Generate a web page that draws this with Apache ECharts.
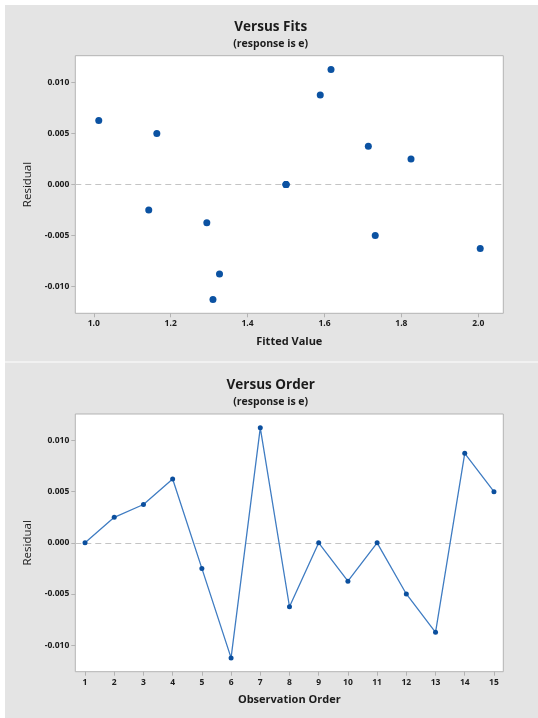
<!DOCTYPE html>
<html>
<head>
<meta charset="utf-8">
<script src="https://cdn.jsdelivr.net/npm/echarts@6/dist/echarts.min.js"></script>
<style>
  html, body { margin: 0; padding: 0; background: #ffffff; }
  #chart { width: 538px; height: 718px; }
</style>
</head>
<body>
<div id="chart"></div>
<script>
// Residual diagnostics for response e: residuals against fitted values and against observation order
const observation = [1, 2, 3, 4, 5, 6, 7, 8, 9, 10, 11, 12, 13, 14, 15];
const fitted = [1.500, 1.825, 1.714, 1.013, 1.143, 1.310, 1.617, 2.005, 1.500, 1.294, 1.500, 1.732, 1.327, 1.589, 1.164];
const residual = [0.0000, 0.0025, 0.00375, 0.00625, -0.0025, -0.01125, 0.01125, -0.00625, 0.0000, -0.00375, 0.0000, -0.005, -0.00875, 0.00875, 0.005];

const residualTicks = [-0.010, -0.005, 0.000, 0.005, 0.010];
const fittedTicks = [1.0, 1.2, 1.4, 1.6, 1.8, 2.0];
const orderTicks = observation;

const FONT = '"Open Sans", "Noto Sans", sans-serif';
const TEXT = '#1b1b1b';
const FRAME = '#b3b3b3';
const PANEL = '#e4e4e4';

const fitPoints = fitted.map((f, i) => [f, residual[i]]);
const orderPoints = observation.map((o, i) => [o, residual[i]]);

// dashed reference line at residual = 0, kept in its own series underneath the data
function zeroSeries(gridIndex) {
  return {
    type: 'line',
    xAxisIndex: gridIndex, yAxisIndex: gridIndex,
    data: [],
    z: 1,
    markLine: {
      silent: true,
      symbol: 'none',
      label: { show: false },
      lineStyle: { color: '#c4c4c4', type: [6, 4], width: 1 },
      data: [{ yAxis: 0 }]
    }
  };
}

function yAxisFor(gridIndex) {
  return {
    type: 'value',
    gridIndex,
    min: -0.0126,
    max: 0.0126,
    name: 'Residual',
    nameLocation: 'middle',
    nameGap: 38,
    nameTextStyle: { fontFamily: FONT, fontSize: 11.5, color: TEXT, fontWeight: 'normal' },
    axisLine: { show: false, onZero: false },
    splitLine: { show: false },
    axisTick: { show: true, length: 4, customValues: residualTicks, lineStyle: { color: FRAME } },
    axisLabel: {
      customValues: residualTicks,
      margin: 6,
      fontFamily: FONT, fontSize: 8.5, fontWeight: 'bold', color: TEXT,
      formatter: v => v.toFixed(3)
    }
  };
}

function xAxisFor(gridIndex, min, max, ticks, name, fmt) {
  return {
    type: 'value',
    gridIndex,
    min, max,
    name,
    nameLocation: 'middle',
    nameGap: 23,
    nameTextStyle: { fontFamily: FONT, fontSize: 11, color: TEXT, fontWeight: 'bold' },
    axisLine: { show: false, onZero: false },
    splitLine: { show: false },
    axisTick: { show: true, length: 4, customValues: ticks, lineStyle: { color: FRAME } },
    axisLabel: {
      customValues: ticks,
      margin: 6,
      fontFamily: FONT, fontSize: 8.5, fontWeight: 'bold', color: TEXT,
      formatter: fmt
    }
  };
}

const chart = echarts.init(document.getElementById('chart'), null, { renderer: 'canvas' });

chart.setOption({
  animation: false,
  backgroundColor: '#ffffff',
  graphic: [
    { type: 'rect', shape: { x: 5, y: 5, width: 533, height: 356.5 }, style: { fill: PANEL }, z: -10 },
    { type: 'rect', shape: { x: 5, y: 362.5, width: 533, height: 356 }, style: { fill: PANEL }, z: -10 }
  ],
  title: [
    { text: 'Versus Fits', left: 265.7, top: 15, textAlign: 'center',
      textStyle: { fontFamily: FONT, fontSize: 13.5, fontWeight: 'bold', color: TEXT } },
    { text: '(response is e)', left: 265.7, top: 34, textAlign: 'center',
      textStyle: { fontFamily: FONT, fontSize: 10.5, fontWeight: 'bold', color: TEXT } },
    { text: 'Versus Order', left: 265.7, top: 373, textAlign: 'center',
      textStyle: { fontFamily: FONT, fontSize: 13.5, fontWeight: 'bold', color: TEXT } },
    { text: '(response is e)', left: 265.7, top: 392, textAlign: 'center',
      textStyle: { fontFamily: FONT, fontSize: 10.5, fontWeight: 'bold', color: TEXT } }
  ],
  grid: [
    { left: 75.3, top: 55.7, width: 428, height: 257.6, show: true,
      backgroundColor: '#ffffff', borderColor: FRAME, borderWidth: 1 },
    { left: 75.3, top: 414, width: 428, height: 257.7, show: true,
      backgroundColor: '#ffffff', borderColor: FRAME, borderWidth: 1 }
  ],
  xAxis: [
    xAxisFor(0, 0.952, 2.065, fittedTicks, 'Fitted Value', v => v.toFixed(1)),
    xAxisFor(1, 0.667, 15.32, orderTicks, 'Observation Order', v => String(Math.round(v)))
  ],
  yAxis: [yAxisFor(0), yAxisFor(1)],
  series: [
    zeroSeries(0),
    zeroSeries(1),
    {
      type: 'scatter',
      xAxisIndex: 0, yAxisIndex: 0,
      data: fitPoints,
      symbol: 'circle',
      symbolSize: 7,
      itemStyle: { color: '#0b52a2', opacity: 1 },
      z: 5
    },
    {
      type: 'line',
      xAxisIndex: 1, yAxisIndex: 1,
      data: orderPoints,
      symbol: 'circle',
      symbolSize: 5,
      showAllSymbol: true,
      lineStyle: { color: '#3f7cc2', width: 1.3 },
      itemStyle: { color: '#0b4f9e', borderWidth: 0, opacity: 1 },
      z: 5
    }
  ]
});
</script>
</body>
</html>
